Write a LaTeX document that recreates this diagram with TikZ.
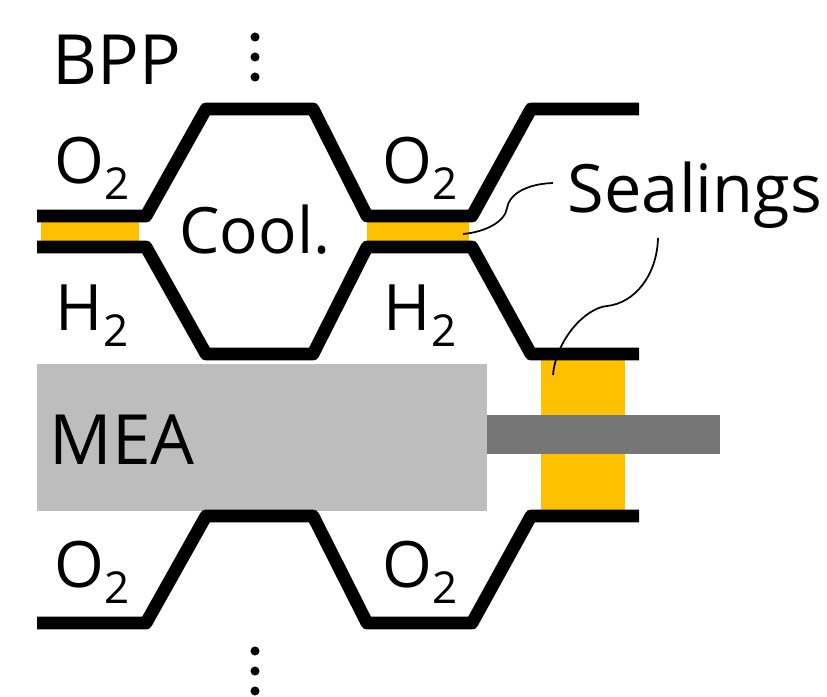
\documentclass[tikz,border=0pt]{standalone}
\usepackage{fontspec}
\setmainfont{Open Sans}
\definecolor{seal}{HTML}{FFC000}
\definecolor{mea}{HTML}{BDBDBD}
\definecolor{gdl}{HTML}{767676}
\tikzset{
 plate/.style={line width=9.6pt,line join=round,line cap=butt},
 lab/.style={font=\fontsize{48}{48}\selectfont,inner sep=0pt,anchor=base},
 biglab/.style={font=\fontsize{52}{52}\selectfont,inner sep=0pt,anchor=base},
 seallab/.style={font=\fontsize{50}{50}\selectfont,inner sep=0pt,anchor=base},
 thinlead/.style={line width=1.3pt},
 dotm/.style={circle,fill=black,inner sep=0pt,minimum size=6.8pt},
}
\newcommand{\gas}[1]{#1\raisebox{-12.7pt}{\fontsize{33}{33}\selectfont 2}}
\begin{document}
\begin{tikzpicture}[x=0.75pt,y=-0.75pt]
\useasboundingbox (0,0) rectangle (827,696);
\fill[seal] (41,217) rectangle (139,246);
\fill[seal] (367,217) rectangle (469,246);
\fill[seal] (541,354) rectangle (625,514);
\fill[mea] (37,364) rectangle (487,511);
\fill[gdl] (487,415) rectangle (720,454);
\draw[plate] (37,216) -- (146,216) -- (206,109) -- (313,109) -- (367,216) -- (472,216) -- (531,109) -- (639,109);
\draw[plate] (37,247) -- (146,247) -- (206,354) -- (313,354) -- (367,247) -- (472,247) -- (531,354) -- (639,354);
\draw[plate] (37,623) -- (146,623) -- (206,516) -- (313,516) -- (367,623) -- (472,623) -- (531,516) -- (639,516);
\node[dotm] (d1) at (255,37) {};
\node[dotm] (d2) at (255,57) {};
\node[dotm] (d3) at (255,77) {};
\node[dotm] (d4) at (255,651) {};
\node[dotm] (d5) at (255,671) {};
\node[dotm] (d6) at (255,691) {};
\node[biglab] (bpp) at (117,84) {BPP};
\node[lab] (o1) at (92,183) {\gas{O}};
\node[lab] (o2) at (420,183) {\gas{O}};
\node[lab] (h1) at (92,330) {\gas{H}};
\node[lab] (h2) at (420,330) {\gas{H}};
\node[lab] (cool) at (255,253) {Cool.};
\node[biglab] (mea) at (122,464) {MEA};
\node[lab] (o3) at (92,587) {\gas{O}};
\node[lab] (o4) at (420,587) {\gas{O}};
\node[seallab] (seal) at (695,212) {Sealings};
\coordinate (s1) at (463,234);
\coordinate (s2) at (553,375);
\coordinate (t1) at (553,183);
\coordinate (t2) at (658,238);
\draw[thinlead] (s1) .. controls (485,232) and (505,222) .. (507,208) .. controls (509,195) and (525,184) .. (t1);
\draw[thinlead] (s2) .. controls (556,340) and (585,308) .. (607,306) .. controls (635,303) and (657,275) .. (t2);
\end{tikzpicture}
\end{document}
